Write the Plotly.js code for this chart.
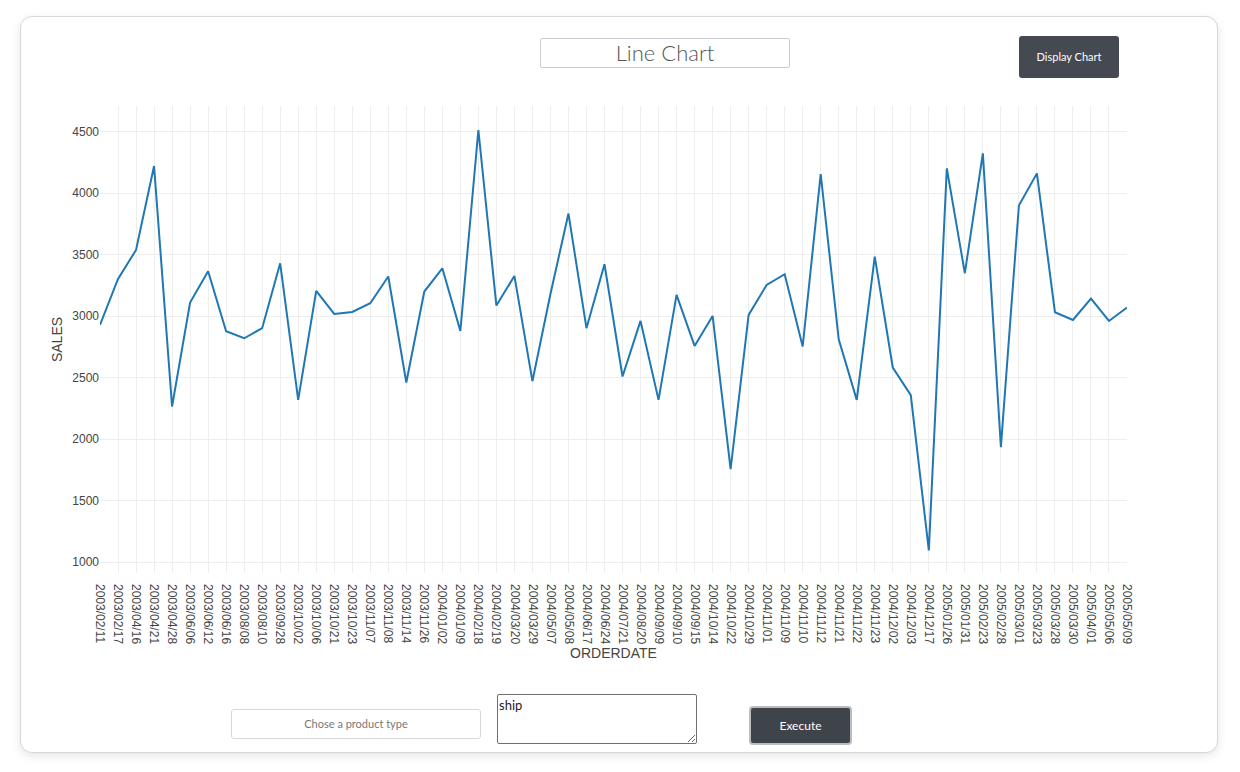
<!DOCTYPE html>
<html>
<head>
<meta charset="utf-8">
<script src="https://cdn.plot.ly/plotly-3.0.1.min.js"></script>
<style>
  html, body { margin: 0; padding: 0; background: #ffffff; width: 1240px; height: 772px; overflow: hidden; }
  body { font-family: "Lato", "Inter", sans-serif; }
  #card { position: absolute; left: 20px; top: 16px; width: 1196px; height: 735px; border: 1px solid #d8d8d8; border-radius: 12px; box-shadow: 0 3px 10px rgba(0,0,0,0.10); background: #fff; }
  #plot { position: absolute; left: 0; top: 0; width: 1240px; height: 680px; z-index: 1; }
  .ui { position: absolute; z-index: 2; box-sizing: border-box; }
  #title { left: 540px; top: 38px; width: 250px; height: 30px; border: 1px solid #c9ccd1; border-radius: 2px; text-align: center; font-size: 22px; line-height: 27px; color: #555; font-weight: 300; background: #fff; }
  #display { left: 1019px; top: 36px; width: 100px; height: 42px; background: #454a52; color: #fff; font-size: 11px; line-height: 42px; text-align: center; border-radius: 3px; }
  #ptype { left: 231px; top: 709px; width: 250px; height: 30px; border: 1px solid #d6d8dc; border-radius: 3px; text-align: center; font-size: 11px; line-height: 28px; color: #777; background: #fff; }
  #ta { left: 497px; top: 694px; width: 200px; height: 50px; border: 1px solid #707070; border-radius: 2px; font-size: 13px; color: #222; padding: 2px 1px; resize: both; font-family: "Lato", sans-serif; background:#fff; }
  #exec { left: 749px; top: 706px; width: 103px; height: 39px; background: #3f434a; border: 2px solid #b9bcc0; border-radius: 4px; color: #fff; font-size: 12px; line-height: 35px; text-align: center; }
</style>
</head>
<body>
<div id="card"></div>
<div id="plot"></div>
<div class="ui" id="title">Line Chart</div>
<div class="ui" id="display">Display Chart</div>
<div class="ui" id="ptype">Chose a product type</div>
<textarea class="ui" id="ta">ship</textarea>
<div class="ui" id="exec">Execute</div>
<script>
const orderDates = [
  "2003/02/11","2003/02/17","2003/04/16","2003/04/21","2003/04/28","2003/06/06","2003/06/12","2003/06/16",
  "2003/08/08","2003/08/10","2003/09/28","2003/10/02","2003/10/06","2003/10/21","2003/10/23","2003/11/07",
  "2003/11/08","2003/11/14","2003/11/26","2004/01/02","2004/01/09","2004/02/18","2004/02/19","2004/03/20",
  "2004/03/29","2004/05/07","2004/05/08","2004/06/17","2004/06/24","2004/07/21","2004/08/20","2004/09/09",
  "2004/09/10","2004/09/15","2004/10/14","2004/10/22","2004/10/29","2004/11/01","2004/11/09","2004/11/10",
  "2004/11/12","2004/11/21","2004/11/22","2004/11/23","2004/12/02","2004/12/03","2004/12/17","2005/01/26",
  "2005/01/31","2005/02/23","2005/02/28","2005/03/01","2005/03/23","2005/03/28","2005/03/30","2005/04/01",
  "2005/05/06","2005/05/09"
];
const sales = [
  2929, 3303, 3538, 4221, 2265, 3110, 3365, 2877,
  2820, 2902, 3430, 2319, 3205, 3018, 3034, 3105,
  3322, 2460, 3200, 3389, 2880, 4514, 3086, 3327,
  2471, 3180, 3834, 2902, 3422, 2509, 2961, 2319,
  3173, 2758, 3002, 1756, 3010, 3254, 3341, 2753,
  4156, 2812, 2319, 3484, 2582, 2357, 1095, 4202,
  3349, 4324, 1935, 3899, 4161, 3032, 2969, 3143,
  2961, 3070
];
const yRange = [911, 4709];

const trace = {
  x: orderDates,
  y: sales,
  type: "scatter",
  mode: "lines",
  line: { color: "#1f77b4", width: 2 }
};

const layout = {
  width: 1240,
  height: 680,
  margin: { l: 100, r: 113, t: 106, b: 107, pad: 0 },
  paper_bgcolor: "rgba(0,0,0,0)",
  plot_bgcolor: "rgba(0,0,0,0)",
  font: { family: "Liberation Sans, Arial, sans-serif", size: 12, color: "#444" },
  showlegend: false,
  xaxis: {
    type: "category",
    range: [0, orderDates.length - 1],
    tickangle: 90,
    ticklabelstandoff: 10,
    gridcolor: "#eeeeee",
    showline: false,
    zeroline: false,
    tickfont: { size: 12, color: "#444" },
    title: { text: "ORDERDATE", font: { size: 14, color: "#444" }, standoff: 4 }
  },
  yaxis: {
    range: yRange,
    gridcolor: "#eeeeee",
    zeroline: false,
    showline: false,
    tickfont: { size: 12, color: "#444" },
    title: { text: "SALES", font: { size: 14, color: "#444" } }
  }
};

Plotly.newPlot("plot", [trace], layout, { displayModeBar: false, staticPlot: true });
</script>
</body>
</html>
